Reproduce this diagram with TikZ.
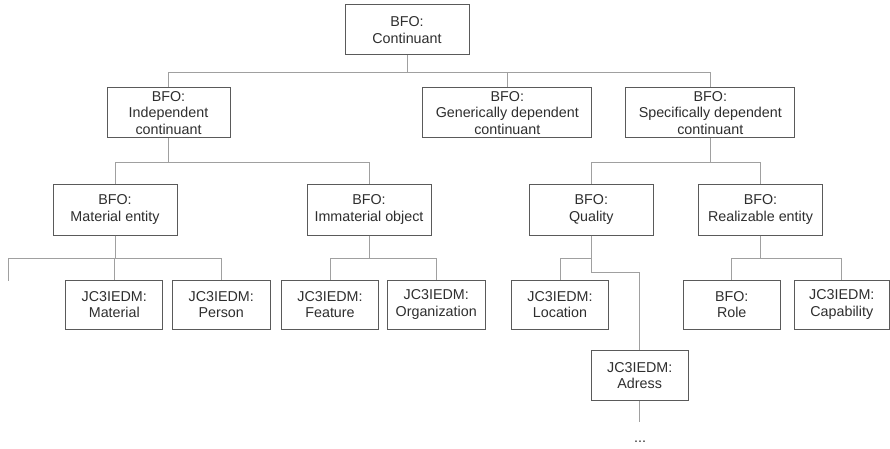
\documentclass[tikz,border=0pt]{standalone}
\usepackage{fontspec}
\setmainfont{Liberation Sans}
\definecolor{boxline}{HTML}{5A5A5A}
\definecolor{connline}{HTML}{A0A0A0}
\definecolor{txt}{HTML}{2E2E2E}
\begin{document}
\begin{tikzpicture}[x=1pt,y=-1pt,
  box/.style={draw=boxline,line width=1pt,fill=white,inner sep=0pt,align=center,
    text=txt,font=\fontsize{14.3}{16.7}\selectfont,minimum height=50pt},
  conn/.style={draw=connline,line width=1pt}]
\useasboundingbox (0,0) rectangle (890,449);
% level 0
\node[box,minimum width=124pt] (root) at (407,30) {BFO:\\Continuant};
% level 1
\node[box,minimum width=123pt] (ind) at (168.5,113) {BFO:\\Independent\\continuant};
\node[box,minimum width=168.7pt] (gen) at (507.3,113) {BFO:\\Generically dependent\\continuant};
\node[box,minimum width=169.3pt] (spec) at (710.3,113) {BFO:\\Specifically dependent\\continuant};
% level 2
\node[box,minimum width=124pt,minimum height=51pt] (mat) at (115,209.5) {BFO:\\Material entity};
\node[box,minimum width=124pt,minimum height=51pt] (imm) at (369,209.5) {BFO:\\Immaterial object};
\node[box,minimum width=124pt,minimum height=51pt] (qual) at (591.3,209.5) {BFO:\\Quality};
\node[box,minimum width=124pt,minimum height=51pt] (real) at (760.5,209.5) {BFO:\\Realizable entity};
% level 3
\node[box,minimum width=97pt,minimum height=49pt] (material) at (114.3,304.7) {JC3IEDM:\\Material};
\node[box,minimum width=97.7pt,minimum height=49pt] (person) at (221.2,304.7) {JC3IEDM:\\Person};
\node[box,minimum width=97pt,minimum height=49pt] (feature) at (330,304.7) {JC3IEDM:\\Feature};
\node[box,minimum width=97.7pt,minimum height=49pt] (org) at (436.2,304.7) {JC3IEDM:\\Organization};
\node[box,minimum width=97pt,minimum height=49pt] (loc) at (560,304.7) {JC3IEDM:\\Location};
\node[box,minimum width=97pt,minimum height=49pt] (role) at (731.7,304.7) {BFO:\\Role};
\node[box,minimum width=95pt,minimum height=49pt] (cap) at (841.8,304.7) {JC3IEDM:\\Capability};
% level 4
\node[box,minimum width=97pt,minimum height=50pt] (adress) at (639.7,375.7) {JC3IEDM:\\Adress};
\coordinate (more) at (8.3,281);
\coordinate (dotsend) at (639.7,421.7);
\node[text=txt,font=\fontsize{14.3}{16.7}\selectfont,inner sep=0pt] (dots) at (640,442) {...};
% connectors
\foreach \c in {ind,gen,spec} \draw[conn] (root.south) -- ++(0,17) -| (\c.north);
\foreach \c in {mat,imm} \draw[conn] (ind.south) -- ++(0,24) -| (\c.north);
\foreach \c in {qual,real} \draw[conn] (spec.south) -- ++(0,24) -| (\c.north);
\foreach \c in {more,material,person} \draw[conn] (mat.south) -- ++(0,23) -| (\c);
\foreach \c in {feature,org} \draw[conn] (imm.south) -- ++(0,23) -| (\c.north);
\draw[conn] (qual.south) -- ++(0,23) -| (loc.north);
\draw[conn] (qual.south) -- ++(0,37.3) -| (adress.north);
\foreach \c in {role,cap} \draw[conn] (real.south) -- ++(0,23) -| (\c.north);
\draw[conn] (adress.south) -- (dotsend);
\end{tikzpicture}
\end{document}
